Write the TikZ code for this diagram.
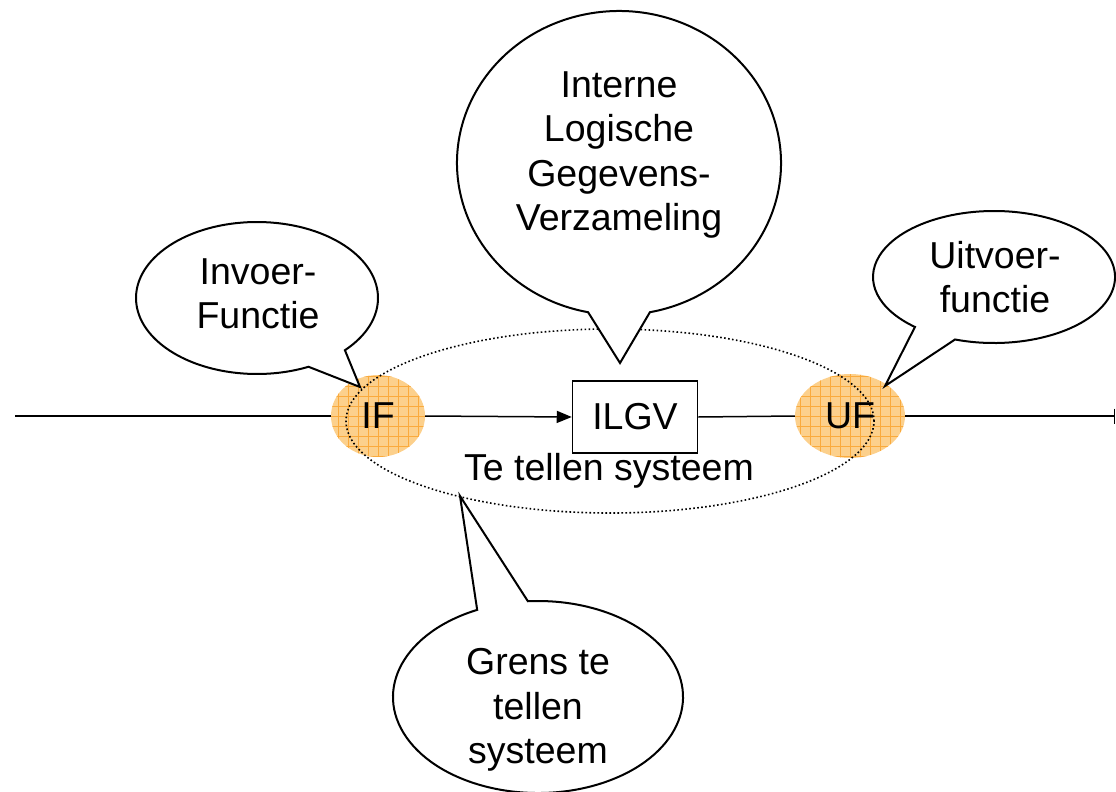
\documentclass[tikz,border=0pt]{standalone}
\usepackage{fontspec}
\setmainfont{Liberation Sans}
\usetikzlibrary{shapes.geometric,arrows.meta}
\definecolor{ifill}{RGB}{252,208,140}
\definecolor{igrid}{RGB}{250,170,60}
\begin{document}
\begin{tikzpicture}[x=1pt,y=1pt,
  txt/.style={font=\fontsize{37.5}{44.3}\selectfont, align=center, inner sep=0pt},
  funcpt/.style={ellipse, fill=ifill, inner sep=0pt,
    font=\fontsize{37.5}{44.3}\selectfont,
    path picture={
      \foreach \k in {-8,...,8}{
        \draw[igrid, line width=0.6pt]
          ([xshift=\k*10pt]path picture bounding box.center) ++(0,-60) -- ++(0,120);
        \draw[igrid, line width=0.6pt]
          ([yshift=\k*10pt]path picture bounding box.center) ++(-70,0) -- ++(140,0);
      }}},
  storebox/.style={draw, fill=white, line width=1.5pt, minimum width=125pt,
    minimum height=72pt, inner sep=0pt, font=\fontsize{37.5}{44.3}\selectfont},
  boundary/.style={ellipse, draw, line width=1.6pt, dash pattern=on 1.6pt off 2.4pt,
    minimum width=528pt, minimum height=184pt, inner sep=0pt},
  flow/.style={line width=1.5pt},
  bubble/.style={draw, fill=white, line width=2pt, line join=miter}]

\useasboundingbox (0,0) rectangle (1116,-792);

% flow line through the system
\coordinate (in) at (15,-416);
\coordinate (out) at (1115,-416);
\node[funcpt, minimum width=94pt, minimum height=82pt] (IF) at (378,-416) {IF};
\node[funcpt, minimum width=110pt, minimum height=84pt] (UF) at (850,-416) {UF};
\node[storebox] (ILGV) at (635,-417) {ILGV};

\draw[flow] (in) -- (IF.west);
\draw[flow, -{Triangle[length=15pt, width=12pt]}] (IF.east) -- (ILGV.west);
\draw[flow] (ILGV.east) -- (UF.west);
\draw[flow, -{Bar[width=15pt]}] (UF.east) -- (out);

% system boundary
\node[boundary] (sys) at (610,-421) {};
\node[txt] (syslbl) at (609,-471) {Te tellen systeem};

% speech bubbles
\coordinate (tipIF) at (360,-387);
\coordinate (tipILGV) at (620,-363);
\coordinate (tipUF) at (885,-386);
\coordinate (tipSys) at (460,-496);

\draw[bubble] (257,-298) ++(-43.4:121 and 76)
  arc[start angle=-43.4, end angle=295.2, x radius=121, y radius=76] -- (tipIF) -- cycle;
\draw[bubble] (619,-163) ++(-79:162 and 152)
  arc[start angle=-79, end angle=259, x radius=162, y radius=152] -- (tipILGV) -- cycle;
\draw[bubble] (994,-277) ++(-108.8:121 and 66)
  arc[start angle=-108.8, end angle=229.2, x radius=121, y radius=66] -- (tipUF) -- cycle;
\draw[bubble] (538,-697) ++(114.8:145 and 96)
  arc[start angle=114.8, end angle=454, x radius=145, y radius=96] -- (tipSys) -- cycle;

\node[txt] (lblIF) at (258,-294) {Invoer-\\Functie};
\node[txt] (lblILGV) at (619,-155) {Interne\\Logische\\Gegevens-\\Verzameling};
\node[txt] (lblUF) at (995,-277) {Uitvoer-\\functie};
\node[txt] (lblSys) at (538,-710) {Grens te\\tellen\\systeem};

\end{tikzpicture}
\end{document}
